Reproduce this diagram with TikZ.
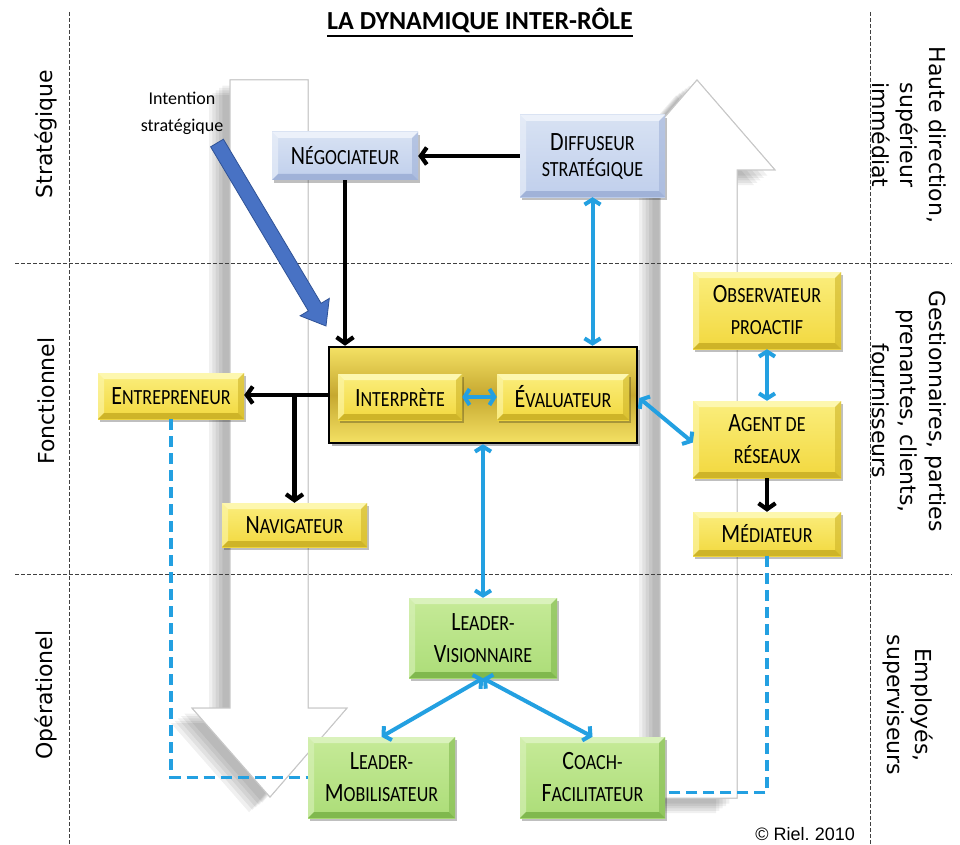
\documentclass[tikz,border=0pt]{standalone}
\usepackage{fontspec}
\usepackage{graphicx}
\setmainfont{Carlito}
\newfontfamily\dvs{DejaVu Sans}
\newfontfamily\libs{Liberation Sans}
\usetikzlibrary{arrows.meta,shadows,calc}
\definecolor{ablue}{RGB}{35,160,225}
\definecolor{intblue}{RGB}{72,114,196}
\definecolor{intdark}{RGB}{47,82,150}
\definecolor{yTop}{RGB}{251,238,125}
\definecolor{yBot}{RGB}{242,216,62}
\definecolor{yLight}{RGB}{253,247,175}
\definecolor{yDark}{RGB}{206,180,40}
\definecolor{bTop}{RGB}{216,226,243}
\definecolor{bBot}{RGB}{192,207,236}
\definecolor{bLight}{RGB}{236,241,250}
\definecolor{bDark}{RGB}{160,178,216}
\definecolor{gTop}{RGB}{198,234,152}
\definecolor{gBot}{RGB}{172,221,120}
\definecolor{gLight}{RGB}{218,242,188}
\definecolor{gDark}{RGB}{128,184,78}
\definecolor{fTop}{RGB}{244,225,100}
\definecolor{fMid}{RGB}{198,168,48}
\newcommand\SC[2]{\scalebox{1}[1.2]{{\fontsize{22}{24}\selectfont #1}{\fontsize{18}{24}\selectfont #2}}}
\newcommand\SM[1]{\scalebox{1}[1.2]{\fontsize{18}{24}\selectfont #1}}
\tikzset{
  bevel/.style n args={2}{path picture={
    \fill[#1] (path picture bounding box.north west) -- (path picture bounding box.north east) -- ([shift={(-6,6)}]path picture bounding box.north east) -- ([shift={(6,6)}]path picture bounding box.north west) -- cycle;
    \fill[#1,opacity=0.6] (path picture bounding box.north west) -- (path picture bounding box.south west) -- ([shift={(6,-6)}]path picture bounding box.south west) -- ([shift={(6,6)}]path picture bounding box.north west) -- cycle;
    \fill[#2] (path picture bounding box.south west) -- (path picture bounding box.south east) -- ([shift={(-6,-6)}]path picture bounding box.south east) -- ([shift={(6,-6)}]path picture bounding box.south west) -- cycle;
    \fill[#2,opacity=0.6] (path picture bounding box.north east) -- (path picture bounding box.south east) -- ([shift={(-6,-6)}]path picture bounding box.south east) -- ([shift={(-6,6)}]path picture bounding box.north east) -- cycle;
  }},
  box/.style={inner sep=0pt, align=center, font=\fontsize{18}{32}\selectfont,
    drop shadow={shadow xshift=2pt, shadow yshift=-3pt, opacity=0.25, fill=black}},
  ybox/.style={box, top color=yTop, bottom color=yBot, bevel={yLight}{yDark}},
  bbox/.style={box, top color=bTop, bottom color=bBot, bevel={bLight}{bDark}},
  gbox/.style={box, top color=gTop, bottom color=gBot, bevel={gLight}{gDark}},
  barrow/.style={line width=4.2pt, -{Straight Barb[length=6pt,width=17pt]}},
  blarrow/.style={line width=4pt, ablue, {Straight Barb[length=5pt,width=16pt]}-{Straight Barb[length=5pt,width=16pt]}},
  bldash/.style={line width=3.8pt, ablue, dash pattern=on 11pt off 6pt},
  divider/.style={line width=0.8pt, black!75, dash pattern=on 4pt off 2pt},
  bigarrow/.style={fill=white, draw=black!22, line width=1pt},
  sidelbl/.style={font=\dvs\fontsize{22}{28.5}\selectfont, align=center},
}
\begin{document}
\begin{tikzpicture}[x=1pt,y=-1pt]
\useasboundingbox (0,0) rectangle (960,845);
\fill[white] (0,0) rectangle (960,845);

% big arrows: shadows
\def\downarrow{(230,80) -- (308,80) -- (308,708) -- (347,708) -- (270,797) -- (192,708) -- (230,708) -- cycle}
\def\uparrow{(660,798) -- (737,798) -- (737,170) -- (775,170) -- (697,80) -- (619,170) -- (660,170) -- cycle}
\foreach \s in {0.35,0.5,0.65,0.8,0.95}{
  \fill[black, opacity=0.06, shift={({-22*\s},{16*\s})}] \downarrow;
  \fill[black, opacity=0.06, shift={({-22*\s},{16*\s})}] \uparrow;
}
\fill[bigarrow] \downarrow;
\fill[bigarrow] \uparrow;
\draw[bigarrow] \downarrow;
\draw[bigarrow] \uparrow;

% dividers
\draw[divider] (15,263) -- (952,263);
\draw[divider] (15,574) -- (952,574);
\draw[divider] (69,12) -- (69,845);
\draw[divider] (870,12) -- (870,845);

% title
\node[inner sep=0pt, anchor=base, font=\fontsize{26}{28}\selectfont\bfseries] (title) at (480,30) {LA DYNAMIQUE INTER-RÔLE};
\draw[line width=2.5pt] ([shift={(0,6)}]title.base west) -- ([shift={(0,6)}]title.base east);

% side labels
\node[sidelbl, rotate=90] (lS) at (46,134) {Stratégique};
\node[sidelbl, rotate=90] (lF) at (46,401) {Fonctionnel};
\node[sidelbl, rotate=90] (lO) at (46,695) {Opérationel};
\node[sidelbl, rotate=-90] (rS) at (909,135) {Haute direction,\\supérieur\\immédiat};
\node[sidelbl, rotate=-90] (rF) at (909,411) {Gestionnaires, parties\\prenantes, clients,\\fournisseurs};
\node[sidelbl, rotate=-90] (rO) at (908,705) {Employés,\\superviseurs};

% intention strategique
\node[align=center, font=\fontsize{18}{27}\selectfont] (itxt) at (182,113) {Intention\\stratégique};
\coordinate (iA) at (217,143);
\coordinate (iB) at (326,326);
\filldraw[fill=intblue, draw=intdark, line width=0.8pt] (223.4,139.2) -- (321.1,303.3) -- (329.3,298.4) -- (iB) -- (300.1,315.8) -- (308.3,310.9) -- (210.6,146.8) -- cycle;

% frame
\node[inner sep=0pt, minimum width=308pt, minimum height=96pt, draw=black, line width=2.5pt,
  top color=fTop, bottom color=fTop, middle color=fMid,
  drop shadow={shadow xshift=3pt, shadow yshift=-3pt, opacity=0.3, fill=black}] (frame) at (483,395) {};

% boxes
\node[bbox, minimum width=146pt, minimum height=48pt] (neg) at (345,156) {\SC{N}{ÉGOCIATEUR}};
\node[bbox, minimum width=145pt, minimum height=82pt] (dif) at (592.5,156) {\SC{D}{IFFUSEUR}\\[-6pt]\SM{STRATÉGIQUE}};
\node[ybox, minimum width=124pt, minimum height=46pt] (int) at (400,397) {\SC{I}{NTERPRÈTE}};
\node[ybox, minimum width=132pt, minimum height=46pt] (eva) at (563,397) {\SC{É}{VALUATEUR}};
\node[ybox, minimum width=146pt, minimum height=46pt] (ent) at (171,396) {\SC{E}{NTREPRENEUR}};
\node[ybox, minimum width=145pt, minimum height=44pt] (nav) at (294.5,525) {\SC{N}{AVIGATEUR}};
\node[ybox, minimum width=148pt, minimum height=77pt] (obs) at (767,310.5) {\SC{O}{BSERVATEUR}\\\SM{PROACTIF}};
\node[ybox, minimum width=148pt, minimum height=77pt] (age) at (767,439.5) {\SC{A}{GENT DE}\\\SM{RÉSEAUX}};
\node[ybox, minimum width=148pt, minimum height=44pt] (med) at (767,534) {\SC{M}{ÉDIATEUR}};
\node[gbox, minimum width=148pt, minimum height=80pt] (lv) at (483,638) {\SC{L}{EADER-}\\\SC{V}{ISIONNAIRE}};
\node[gbox, minimum width=147pt, minimum height=81pt] (lm) at (381.5,777.5) {\SC{L}{EADER-}\\\SC{M}{OBILISATEUR}};
\node[gbox, minimum width=145pt, minimum height=81pt] (cf) at (592.5,777.5) {\SC{C}{OACH-}\\\SC{F}{ACILITATEUR}};

% black connectors
\draw[barrow] (dif.west) -- (neg.east);
\draw[barrow] (neg.south) -- (neg.south |- frame.north);
\draw[barrow] (frame.west) -- (frame.west -| ent.east);
\draw[barrow] (frame.west -| nav.north) -- (nav.north);
\draw[barrow] (age.south) -- (med.north);

% blue connectors
\draw[blarrow] (int.east) -- (eva.west);
\draw[blarrow] (dif.south) -- (dif.south |- frame.north);
\draw[blarrow] ([shift={(1,3)}]frame.east) -- ([shift={(0,3)}]age.west);
\draw[blarrow] (obs.south) -- (age.north);
\draw[blarrow] (frame.south) -- (lv.north);
\draw[blarrow] (lv.south) -- (lm.north);
\draw[blarrow] (lv.south) -- (cf.north);

% dashed
\draw[bldash] (ent.south) |- (lm.west);
\draw[bldash] (med.south) |- ([shift={(0,15)}]cf.east);

% copyright
\node[inner sep=0pt, anchor=base east, font=\libs\fontsize{18}{20}\selectfont] (copy) at (855,840) {© Riel.~2010};
\end{tikzpicture}
\end{document}
